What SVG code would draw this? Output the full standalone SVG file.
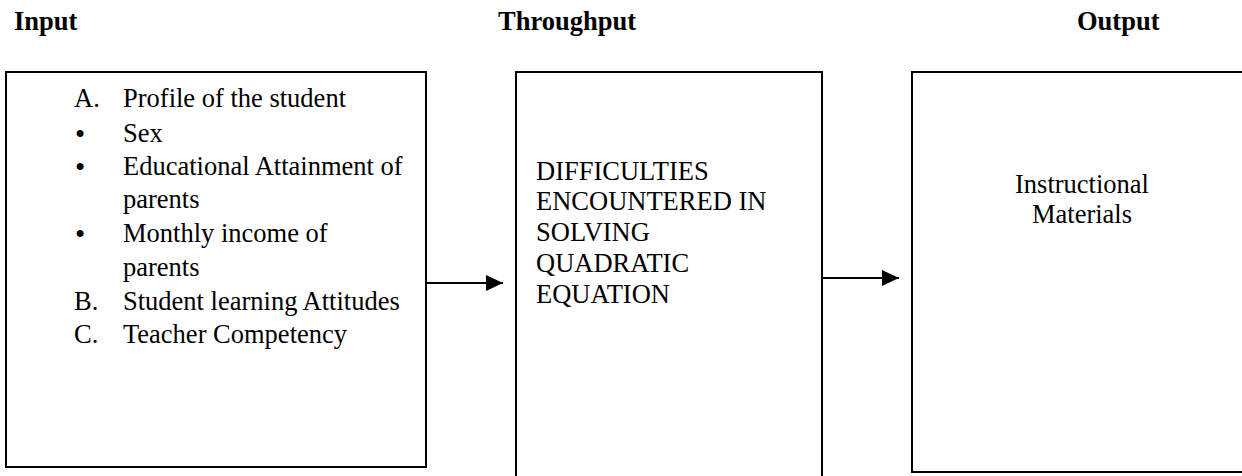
<svg xmlns="http://www.w3.org/2000/svg" width="1242" height="476" viewBox="0 0 1242 476">
  <style>
    text { font-family: "Liberation Serif", "Times New Roman", serif; font-size: 26.5px; fill: #000; }
    .hdr { font-weight: bold; }
    .bul { font-size: 29px; }
    .box { fill: #fff; stroke: #000; stroke-width: 2; }
    .conn { stroke: #000; stroke-width: 2; fill: none; }
  </style>
  <defs>
    <marker id="arrow" markerUnits="userSpaceOnUse" markerWidth="18" markerHeight="16" refX="17" refY="8" orient="auto">
      <path d="M0,0 L17,8 L0,16 Z" fill="#000"/>
    </marker>
  </defs>

  <g id="headers">
    <text class="hdr" x="14" y="30">Input</text>
    <text class="hdr" x="498" y="30">Throughput</text>
    <text class="hdr" x="1077" y="30">Output</text>
  </g>

  <g id="input">
    <rect class="box" x="6" y="72" width="420" height="395"/>
    <text x="74" y="107">A.</text>
    <text x="123" y="107">Profile of the student</text>
    <text class="bul" x="75" y="144">•</text>
    <text x="123" y="142">Sex</text>
    <text class="bul" x="75" y="177">•</text>
    <text x="123" y="175">Educational Attainment of</text>
    <text x="123" y="208">parents</text>
    <text class="bul" x="75" y="244">•</text>
    <text x="123" y="242">Monthly income of</text>
    <text x="123" y="276">parents</text>
    <text x="74" y="310">B.</text>
    <text x="123" y="310">Student learning Attitudes</text>
    <text x="74" y="343">C.</text>
    <text x="123" y="343">Teacher Competency</text>
  </g>

  <g id="throughput">
    <rect class="box" x="516" y="72" width="306" height="410"/>
    <text x="536" y="180">DIFFICULTIES</text>
    <text x="536" y="210">ENCOUNTERED IN</text>
    <text x="536" y="241">SOLVING</text>
    <text x="536" y="272">QUADRATIC</text>
    <text x="536" y="303">EQUATION</text>
  </g>

  <g id="output">
    <rect class="box" x="912" y="72" width="340" height="400"/>
    <text x="1082" y="193" text-anchor="middle">Instructional</text>
    <text x="1082" y="223" text-anchor="middle">Materials</text>
  </g>

  <g id="connectors">
    <line class="conn" x1="426" y1="283" x2="503" y2="283" marker-end="url(#arrow)"/>
    <line class="conn" x1="822" y1="278" x2="899" y2="278" marker-end="url(#arrow)"/>
  </g>
</svg>
